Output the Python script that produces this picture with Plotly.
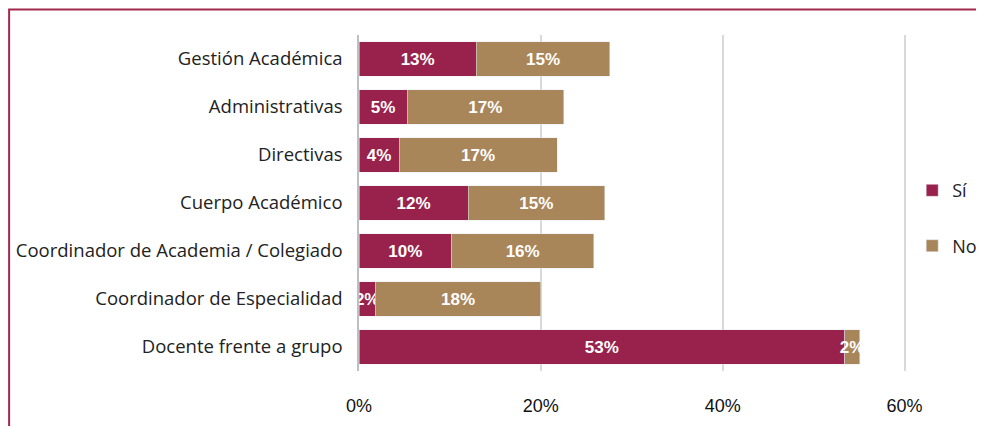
import plotly.graph_objects as go

# categories, top to bottom as in the picture
categorias = ["Gestión Académica", "Administrativas", "Directivas",
              "Cuerpo Académico", "Coordinador de Academia / Colegiado",
              "Coordinador de Especialidad", "Docente frente a grupo"]
si = [12.9, 5.3, 4.4, 12.0, 10.2, 1.8, 53.4]
no = [14.7, 17.2, 17.4, 15.0, 15.6, 18.2, 1.65]
x_ticks = [0, 20, 40, 60]
x_tick_labels = ["0%", "20%", "40%", "60%"]

color_si = "#98224B"
color_no = "#A8865A"

bar_font = dict(color="white", size=17, family="Liberation Sans, Arial",
                weight="bold")

fig = go.Figure()
fig.add_trace(go.Bar(y=categorias, x=si, name="Sí", orientation="h",
                     marker=dict(color=color_si), legendgroup="si",
                     texttemplate="%{x:.0f}%", textposition="inside",
                     insidetextanchor="middle", constraintext="none",
                     textangle=0, textfont=bar_font))
fig.add_trace(go.Bar(y=categorias, x=no, name="No", orientation="h",
                     marker=dict(color=color_no), legendgroup="no",
                     texttemplate="%{x:.0f}%", textposition="inside",
                     insidetextanchor="middle", constraintext="none",
                     textangle=0, textfont=bar_font))

# the page body adds an 8px margin, so the figure is shifted left/up to compensate
fig.update_layout(
    width=984, height=426,
    barmode="stack", bargap=0.29,
    margin=dict(l=351, r=82, t=27, b=63, autoexpand=False),
    paper_bgcolor="white", plot_bgcolor="white",
    uniformtext=dict(minsize=17, mode="show"),
    legend=dict(x=1.004, xanchor="left", y=0.592, yanchor="top",
                tracegroupgap=29, itemwidth=30,
                font=dict(family="Open Sans", size=18, color="#222")),
    xaxis=dict(range=[0, 60.6], tickvals=x_ticks, ticktext=x_tick_labels,
               showgrid=True, gridcolor="#d9d9d9", gridwidth=1.5,
               zeroline=False, ticklabelstandoff=22,
               tickfont=dict(family="Liberation Sans, Arial", size=18,
                             color="#111")),
    yaxis=dict(categoryorder="array", categoryarray=categorias[::-1],
               showline=True, linecolor="#bfbfbf", linewidth=1.5,
               ticklabelstandoff=11,
               tickfont=dict(family="Open Sans", size=18.5, color="#222")),
    shapes=[dict(type="rect", xref="paper", yref="paper",
                 x0=-0.635, x1=2, y0=-1, y1=1.076,
                 line=dict(color="#A3284F", width=2),
                 fillcolor="rgba(0,0,0,0)", layer="below")],
)

fig.write_html("out.html")
